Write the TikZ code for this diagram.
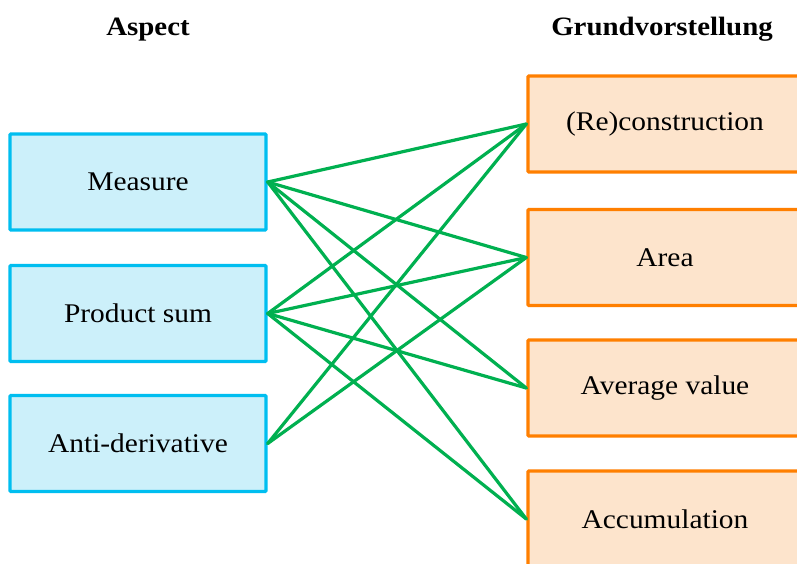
\documentclass[tikz,border=0pt]{standalone}
\usepackage{fontspec}
\setmainfont[FakeStretch=1.09]{Liberation Serif}
\definecolor{bluebd}{RGB}{0,190,240}
\definecolor{bluefill}{RGB}{204,240,250}
\definecolor{orbd}{RGB}{255,127,0}
\definecolor{orfill}{RGB}{253,228,204}
\definecolor{linkgreen}{RGB}{0,176,80}
\tikzset{
  aspectbox/.style={draw=bluebd, fill=bluefill, line width=3.4pt, rectangle, rounded corners=1pt,
    minimum width=256pt, minimum height=96pt, inner sep=0pt, font=\fontsize{27}{30}\selectfont},
  gvbox/.style={draw=orbd, fill=orfill, line width=3.4pt, rectangle, rounded corners=1pt,
    minimum width=274pt, minimum height=96pt, inner sep=0pt, font=\fontsize{27}{30}\selectfont},
  header/.style={font=\fontsize{26.5}{30}\selectfont\bfseries, anchor=base},
  link/.style={draw=linkgreen, line width=3.2pt, line cap=round}
}
\begin{document}
\begin{tikzpicture}[x=1pt,y=-1pt]
\useasboundingbox (0,0) rectangle (797,563);
\clip (0,0) rectangle (797,563);
\fill[white] (0,0) rectangle (797,563);
\node[header] (hA) at (148,35) {Aspect};
\node[header] (hG) at (662,35) {Grundvorstellung};
\node[aspectbox] (m) at (138,182) {Measure};
\node[aspectbox] (p) at (138,313.5) {Product sum};
\node[aspectbox] (a) at (138,443.5) {Anti-derivative};
\node[gvbox] (r) at (665,124) {(Re)construction};
\node[gvbox] (ar) at (665,257.5) {Area};
\node[gvbox] (av) at (665,388) {Average value};
\node[gvbox] (ac) at (665,519) {Accumulation};
\foreach \s/\t in {m/r, m/ar, m/av, m/ac, p/r, p/ar, p/av, p/ac, a/r, a/ar}
  \draw[link] (\s.east) -- (\t.west);
\end{tikzpicture}
\end{document}
